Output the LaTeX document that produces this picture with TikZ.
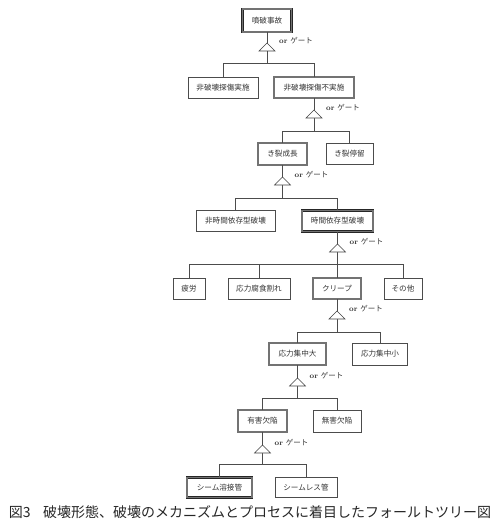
\documentclass[tikz,border=0pt]{standalone}
\usepackage{fontspec}
\newfontfamily\cjk{Noto Sans CJK JP}
\begin{document}
\begin{tikzpicture}[x=1pt,y=-1pt,
  box/.style={draw=black!70, line width=0.6pt, rectangle, inner sep=0pt,
    minimum height=21pt, font=\cjk\fontsize{7.6}{8}\selectfont, text=black!80},
  dbox/.style={box, draw=black!85, line width=0.6pt, double=black!55, double distance=1.4pt},
  link/.style={draw=black!70, line width=0.6pt},
  gatetri/.style={draw=black!75, line width=0.6pt, fill=white},
  gatelbl/.style={anchor=west, inner sep=0pt, text=black!80, font=\fontsize{7.5}{8}\selectfont}]
\useasboundingbox (0,0) rectangle (500,527);

% boxes
\node[dbox, minimum width=49pt, minimum height=23pt] (A) at (267,20.5) {噴破事故};
\node[box,  minimum width=70pt] (B) at (223,87.5) {非破壊探傷実施};
\node[dbox, minimum width=80pt] (C) at (314,87.5) {非破壊探傷不実施};
\node[dbox, minimum width=49pt, minimum height=22pt] (D) at (282.5,154) {き裂成長};
\node[box,  minimum width=47pt] (E) at (349.5,154) {き裂停留};
\node[box,  minimum width=79pt] (F) at (235.5,221) {非時間依存型破壊};
\node[dbox, minimum width=71pt] (G) at (337.5,221) {時間依存型破壊};
\node[box,  minimum width=32pt] (H) at (189,288.5) {疲労};
\node[box,  minimum width=62pt] (I) at (259,288.5) {応力腐食割れ};
\node[dbox, minimum width=48pt] (J) at (337,288.5) {クリープ};
\node[box,  minimum width=38pt] (K) at (403,288.5) {その他};
\node[dbox, minimum width=57pt, minimum height=22pt] (L) at (297.5,354) {応力集中大};
\node[box,  minimum width=55pt, minimum height=22pt] (M) at (380,354) {応力集中小};
\node[dbox, minimum width=49pt, minimum height=22pt] (N) at (262.5,421) {有害欠陥};
\node[box,  minimum width=48pt, minimum height=22pt] (O) at (337,421) {無害欠陥};
\node[dbox, minimum width=65pt, minimum height=20pt] (P) at (219.5,487.5) {シーム溶接管};
\node[box,  minimum width=62pt, minimum height=20pt] (Q) at (306,487.5) {シームレス管};

% bar coordinates
\coordinate (b1) at (267,63);
\coordinate (b2) at (314,131);
\coordinate (b3) at (282.5,198);
\coordinate (b4) at (337.5,264);
\coordinate (b5) at (337,332);
\coordinate (b6) at (297.5,398);
\coordinate (b7) at (262.5,464);

% connectors
\draw[link] (A.south) -- (b1) -| (B.north);
\draw[link] (b1) -| (C.north);
\draw[link] (C.south) -- (b2) -| (D.north);
\draw[link] (b2) -| (E.north);
\draw[link] (D.south) -- (b3) -| (F.north);
\draw[link] (b3) -| (G.north);
\draw[link] (G.south) -- (b4) -| (H.north);
\draw[link] (b4) -| (I.north);
\draw[link] (b4) -| (J.north);
\draw[link] (b4) -| (K.north);
\draw[link] (J.south) -- (b5) -| (L.north);
\draw[link] (b5) -| (M.north);
\draw[link] (L.south) -- (b6) -| (N.north);
\draw[link] (b6) -| (O.north);
\draw[link] (N.south) -- (b7) -| (P.north);
\draw[link] (b7) -| (Q.north);

% or gates
\foreach \gx/\gy [count=\k] in {267/43, 314/110, 282.5/177, 337.5/244, 337/311, 297.5/378, 262.5/445}{
  \coordinate (g\k) at (\gx,\gy);
  \draw[gatetri] (g\k) -- ++(8,8) -- ++(-16,0) -- cycle;
  \node[gatelbl] (gl\k) at ([xshift=12pt,yshift=2.5pt]g\k) {\textbf{or} {\cjk ゲート}};
}

% caption
\node[inner sep=0pt, font=\cjk\fontsize{14}{16}\selectfont, text=black!85] (cap) at (250,512)
  {図3\hspace{0.9em}破壊形態、破壊のメカニズムとプロセスに着目したフォールトツリー図};
\end{tikzpicture}
\end{document}
